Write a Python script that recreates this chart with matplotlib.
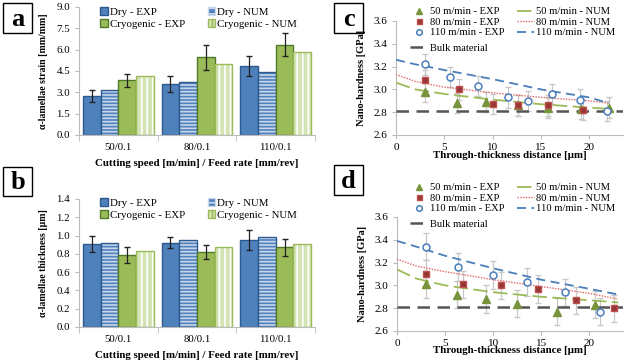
import matplotlib.pyplot as plt
import numpy as np

plt.rcParams['font.family'] = ['Liberation Serif', 'DejaVu Serif']
plt.rcParams['hatch.linewidth'] = 1.2

# ---- panels a / b data ----
groups = ['50/0.1', '80/0.1', '110/0.1']
series = ['Dry - EXP', 'Dry - NUM', 'Cryogenic - EXP', 'Cryogenic - NUM']

strain_dry_exp = [2.75, 3.6, 4.85]
strain_dry_exp_err = [0.4, 0.55, 0.7]
strain_dry_num = [3.15, 3.75, 4.4]
strain_cryo_exp = [3.85, 5.45, 6.35]
strain_cryo_exp_err = [0.45, 0.9, 0.8]
strain_cryo_num = [4.15, 5.0, 5.85]

thick_dry_exp = [0.91, 0.92, 0.95]
thick_dry_exp_err = [0.09, 0.06, 0.11]
thick_dry_num = [0.92, 0.95, 0.98]
thick_cryo_exp = [0.79, 0.82, 0.87]
thick_cryo_exp_err = [0.09, 0.08, 0.09]
thick_cryo_num = [0.83, 0.87, 0.91]

# ---- panels c / d data ----
c50_x = [3.0, 6.3, 9.3, 12.6, 15.7, 19.2, 22.0]
c50_y = [2.98, 2.88, 2.89, 2.86, 2.84, 2.83, 2.84]
c80_x = [3.0, 6.5, 10.0, 12.6, 15.7, 19.4]
c80_y = [3.08, 3.00, 2.87, 2.86, 2.86, 2.82]
c110_x = [3.0, 5.6, 8.5, 11.6, 13.7, 16.1, 19.1, 21.8]
c110_y = [3.22, 3.11, 3.03, 2.93, 2.90, 2.96, 2.91, 2.81]
c_err = 0.09

num_x = [0, 2, 5, 10, 15, 20, 22]
c50_num = [3.06, 3.00, 2.96, 2.91, 2.87, 2.84, 2.83]
c80_num = [3.13, 3.07, 3.02, 2.97, 2.93, 2.90, 2.88]
c110_num = [3.26, 3.22, 3.17, 3.09, 3.00, 2.93, 2.88]

d50_x = [3.0, 6.2, 9.3, 12.5, 16.6, 20.6]
d50_y = [3.01, 2.92, 2.88, 2.84, 2.77, 2.83]
d80_x = [3.0, 6.9, 10.8, 14.7, 18.6, 22.6]
d80_y = [3.10, 3.01, 3.00, 2.97, 2.87, 2.80]
d110_x = [3.0, 6.3, 10.0, 13.5, 17.5, 21.1]
d110_y = [3.34, 3.16, 3.09, 3.03, 2.94, 2.77]
d_err = 0.12

num_x_d = [0, 2, 5, 10, 15, 20, 23]
d50_num = [3.14, 3.06, 3.00, 2.94, 2.90, 2.87, 2.85]
d80_num = [3.23, 3.17, 3.12, 3.05, 2.99, 2.93, 2.88]
d110_num = [3.39, 3.34, 3.26, 3.15, 3.05, 2.97, 2.92]

bulk = 2.81

BLUE = '#4F81BD'
BLUE_E = '#2C5A8F'
GREEN = '#9BBB59'
GREEN_E = '#4F7A28'
LGREEN = '#D3E3B3'
W, H = 625, 363
FS = 7.8


def fx(px):
    return px / W


def fy(py):
    return 1 - py / H


def panel_label(fig, x0, y0, x1, y1, txt):
    fig.patches.append(plt.Rectangle((fx(x0), fy(y1)), fx(x1 - x0), (y1 - y0) / H, zorder=-1,
                                     transform=fig.transFigure, fc='white', ec='black', lw=1))
    fig.text(fx((x0 + x1) / 2), fy((y0 + y1) / 2 + 1), txt, fontsize=19, fontweight='bold',
             ha='center', va='center')


def bar_panel(fig, ax, vals, errs, ylim, yticks, ylabel, leg_top):
    x = np.arange(len(groups))
    w = 0.225
    offs = [-1.5 * w, -0.5 * w, 0.5 * w, 1.5 * w]
    dexp, dnum, cexp, cnum = vals
    ax.bar(x + offs[0], dexp, w, color=BLUE, edgecolor=BLUE_E, lw=1)
    ax.bar(x + offs[1], dnum, w, color=BLUE, edgecolor='#C9D7EA', lw=0, hatch='-----')
    ax.bar(x + offs[1], dnum, w, color='none', edgecolor=BLUE_E, lw=1)
    ax.bar(x + offs[2], cexp, w, color=GREEN, edgecolor=GREEN_E, lw=1)
    ax.bar(x + offs[3], cnum, w, color=LGREEN, edgecolor='white', lw=0, hatch='|||')
    ax.bar(x + offs[3], cnum, w, color='none', edgecolor=GREEN, lw=1)
    ax.errorbar(x + offs[0], dexp, yerr=errs[0], fmt='none', ecolor='#222222', elinewidth=0.9, capsize=2)
    ax.errorbar(x + offs[2], cexp, yerr=errs[1], fmt='none', ecolor='#222222', elinewidth=0.9, capsize=2)
    # legend proxies
    h = [plt.Rectangle((0, 0), 1, 1, fc=BLUE, ec=BLUE_E),
         plt.Rectangle((0, 0), 1, 1, fc=BLUE, ec='#C9D7EA', hatch='---'),
         plt.Rectangle((0, 0), 1, 1, fc=GREEN, ec=GREEN_E),
         plt.Rectangle((0, 0), 1, 1, fc=LGREEN, ec=GREEN, hatch='||')]
    order = [0, 2, 1, 3]
    ax.legend([h[i] for i in order], [series[i] for i in order], ncol=2, loc='upper left',
              bbox_to_anchor=(fx(100), fy(leg_top)), bbox_transform=fig.transFigure,
              frameon=False, fontsize=FS, handlelength=0.7, borderpad=0, borderaxespad=0,
              handleheight=0.7, handletextpad=0.2, columnspacing=2.1, labelspacing=0.25)
    ax.set_xlim(-0.5, 2.5)
    ax.set_ylim(*ylim)
    ax.set_yticks(yticks)
    ax.set_yticklabels(['%.1f' % v for v in yticks])
    ax.set_xticks(x)
    ax.set_xticklabels(groups)
    ax.set_xticks([-0.5, 0.5, 1.5, 2.5], minor=True)
    ax.tick_params(axis='x', which='major', length=0, labelsize=7.8, pad=6)
    ax.tick_params(axis='x', which='minor', length=4, color='#BBBBBB')
    ax.tick_params(axis='y', length=3, color='#BBBBBB', labelsize=7.8)
    for s in ['top', 'right']:
        ax.spines[s].set_visible(False)
    for s in ['left', 'bottom']:
        ax.spines[s].set_color('#BBBBBB')
    ax.set_xlabel('Cutting speed [m/min] / Feed rate [mm/rev]', fontsize=FS, fontweight='bold', labelpad=5)
    ax.set_ylabel(ylabel, fontsize=7, fontweight='bold', labelpad=6)


def line_panel(fig, ax, exps, nums, nx, err, leg_top, bulk_y, xpad):
    (x50, y50), (x80, y80), (x110, y110) = exps
    n50, n80, n110 = nums
    ekw = dict(fmt='none', ecolor='#C8C8C8', elinewidth=0.9, capsize=2, zorder=2)
    ax.errorbar(x50, y50, yerr=err, **ekw)
    ax.errorbar(x80, y80, yerr=err, **ekw)
    ax.errorbar(x110, y110, yerr=err, **ekw)
    hb, = ax.plot([0, 23.5], [bulk, bulk], color='#555555', lw=1.8, ls=(0, (5, 3)), zorder=3)
    h1n, = ax.plot(nx, n50, color='#9BBB59', lw=1.3, ls=(0, (8, 3)), zorder=3)
    h2n, = ax.plot(nx, n80, color='#E06666', lw=1.0, ls=(0, (1, 1)), zorder=3)
    h3n, = ax.plot(nx, n110, color='#4A7EBB', lw=1.3, ls=(0, (5, 3)), zorder=3)
    h1, = ax.plot(x50, y50, '^', color='#77933C', ms=5.5, ls='none', zorder=4)
    h2, = ax.plot(x80, y80, 's', color='#953735', mec='#C0504D', ms=4.5, ls='none', zorder=4)
    h3, = ax.plot(x110, y110, 'o', mfc='white', mec='#4A7EBB', mew=1.1, ms=5, ls='none', zorder=4)
    leg = ax.legend([h1, h2, h3, h1n, h2n, h3n],
                    ['50 m/min - EXP', '80 m/min - EXP', '110 m/min - EXP',
                     '50 m/min - NUM', '80 m/min - NUM', '110 m/min - NUM'],
                    ncol=2, loc='upper left', bbox_to_anchor=(fx(410), fy(leg_top)),
                    bbox_transform=fig.transFigure, frameon=False, borderpad=0,
                    fontsize=7.6, handlelength=1.65, handletextpad=0.2, columnspacing=1.2,
                    labelspacing=0.1, borderaxespad=0, markerscale=0.8)
    ax.add_artist(leg)
    ax.legend([hb], ['Bulk material'], loc='center left', bbox_to_anchor=(fx(410), fy(bulk_y)),
              bbox_transform=fig.transFigure, frameon=False, fontsize=7.6, handlelength=1.65,
              handletextpad=0.2, borderpad=0, borderaxespad=0)
    ax.set_xlim(0, 23.5)
    ax.set_ylim(2.6, 3.6)
    ax.set_xticks([0, 5, 10, 15, 20])
    ax.set_yticks([2.6, 2.8, 3.0, 3.2, 3.4, 3.6])
    ax.set_yticklabels(['%.1f' % v for v in [2.6, 2.8, 3.0, 3.2, 3.4, 3.6]])
    ax.tick_params(length=3, color='#BBBBBB', labelsize=8)
    ax.tick_params(axis='x', pad=2.5)
    for s in ['top', 'right']:
        ax.spines[s].set_visible(False)
    for s in ['left', 'bottom']:
        ax.spines[s].set_color('#BBBBBB')
    ax.set_xlabel('Through-thickness distance [µm]', fontsize=FS, fontweight='bold', labelpad=xpad)
    ax.set_ylabel('Nano-hardness [GPa]', fontsize=7.5, fontweight='bold', labelpad=5)


fig = plt.figure(figsize=(6.25, 3.63), dpi=100)

ax_a = fig.add_axes([fx(79), fy(135), fx(236), 128 / H])
bar_panel(fig, ax_a, [strain_dry_exp, strain_dry_num, strain_cryo_exp, strain_cryo_num],
          [strain_dry_exp_err, strain_cryo_exp_err], (0, 9.0),
          [0, 1.5, 3.0, 4.5, 6.0, 7.5, 9.0], 'α-lamellae strain [mm/mm]', 7)

ax_b = fig.add_axes([fx(79), fy(327), fx(236), 128 / H])
bar_panel(fig, ax_b, [thick_dry_exp, thick_dry_num, thick_cryo_exp, thick_cryo_num],
          [thick_dry_exp_err, thick_cryo_exp_err], (0, 1.4),
          [0, 0.2, 0.4, 0.6, 0.8, 1.0, 1.2, 1.4], 'α-lamellae thickness [µm]', 198)

ax_c = fig.add_axes([fx(396), fy(135), fx(227), 114 / H])
line_panel(fig, ax_c, [(c50_x, c50_y), (c80_x, c80_y), (c110_x, c110_y)],
           [c50_num, c80_num, c110_num], num_x, c_err, 7, 48, -0.5)

ax_d = fig.add_axes([fx(397), fy(331), fx(226), 114 / H])
line_panel(fig, ax_d, [(d50_x, d50_y), (d80_x, d80_y), (d110_x, d110_y)],
           [d50_num, d80_num, d110_num], num_x_d, d_err, 183, 224, -1.0)

panel_label(fig, 3, 3, 32, 33, 'a')
panel_label(fig, 3, 167, 32, 196, 'b')
panel_label(fig, 334, 3, 363, 33, 'c')
panel_label(fig, 334, 165, 363, 195, 'd')

fig.savefig('out.png', dpi=100)
